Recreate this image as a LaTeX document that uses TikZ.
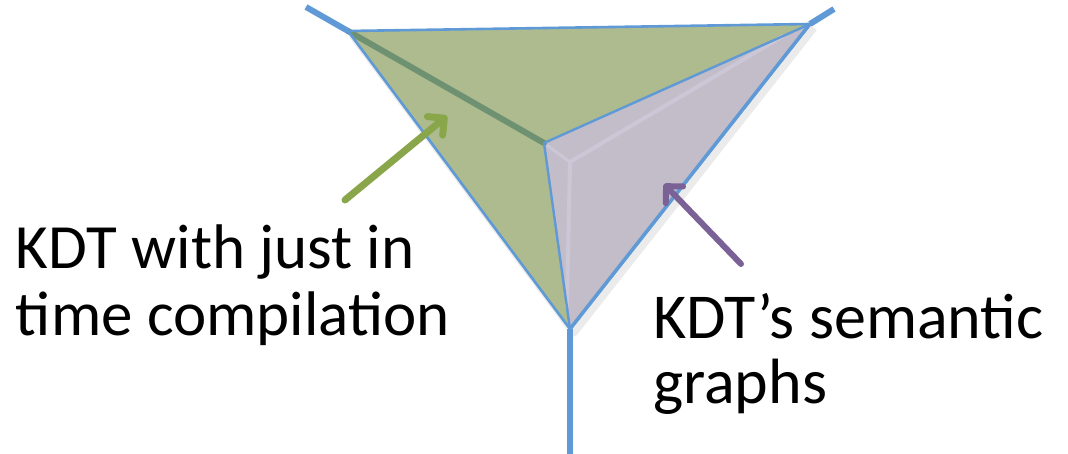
\documentclass[tikz,border=0pt]{standalone}
\usepackage{fontspec}
\setmainfont{Carlito}
\usetikzlibrary{arrows.meta,calc}
\definecolor{edgeblue}{HTML}{5F99D6}
\definecolor{ridge}{HTML}{6D9171}
\definecolor{greenface}{HTML}{ADBB8F}
\definecolor{purpleface}{HTML}{C3BDC9}
\definecolor{bevel}{HTML}{CBC7D6}
\definecolor{garrow}{HTML}{8AA64B}
\definecolor{parrow}{HTML}{7A6196}
\begin{document}
\begin{tikzpicture}[x=1pt,y=-1pt,
  edge/.style={draw=edgeblue,line width=2.6pt,line cap=round,line join=round},
  stub/.style={draw=edgeblue,line width=6pt},
  shade/.style={draw=black,opacity=0.08,line width=7pt,line join=round},
  lbl/.style={inner sep=0pt,outer sep=0pt,align=left,text=black},
  callout/.style={line width=#1,line cap=round,
    -{Straight Barb[length=12pt,width=24pt,round]}},
  callout/.default=7pt]
\useasboundingbox (0,0) rectangle (1068,454);
\coordinate (A) at (348,31);
\coordinate (B) at (810,24);
\coordinate (C) at (544,143);
\coordinate (D) at (570,329);
\coordinate (Aend) at (306,7);
\coordinate (Bend) at (834,9);
\coordinate (Dend) at (570,454);
% soft shadow
\draw[shade] ([shift={(4,4)}]A) -- ([shift={(4,4)}]D) -- ([shift={(4,4)}]B);
% faces
\fill[greenface] (A) -- (B) -- (C) -- (D) -- cycle;
\fill[purpleface] (C) -- (B) -- (D) -- cycle;
% bevel on the purple face
\coordinate (Cin) at (570,162);
\draw[bevel,line width=4pt,line join=round] ($(B)!0.1!(C)$) -- (Cin) -- ($(D)!0.12!(C)$);
\draw[bevel,line width=3pt] (C) -- (Cin);
% ridge
\draw[ridge,line width=6pt,line cap=round] (A) -- (C);
% edges
\draw[edge] (A) -- (B);
\draw[edge] (A) -- (D);
\draw[edge,line width=3.6pt] (B) -- (D);
\draw[edge,line width=2.4pt] (C) -- (D);
\draw[edge,line width=2.4pt] (C) -- (B);
% stubs
\draw[stub] (Aend) -- (A);
\draw[stub] (Bend) -- (B);
\draw[stub] (D) -- (Dend);
% callout arrows
\coordinate (gtail) at (345,200);
\coordinate (gtip) at (447,116);
\coordinate (ptail) at (741,264);
\coordinate (ptip) at (664,184);
\draw[garrow,callout] (gtail) -- (gtip);
\draw[parrow,callout=6pt] (ptail) -- (ptip);
% labels (base anchor = baseline of the last line)
\node[lbl,font=\fontsize{63}{67}\selectfont,anchor=base west] (jit) at (16,335)
  {KDT with just in\\time compilation};
\node[lbl,font=\fontsize{64}{65}\selectfont,anchor=base west] (sem) at (653,403)
  {KDT’s semantic\\graphs};
\end{tikzpicture}
\end{document}
